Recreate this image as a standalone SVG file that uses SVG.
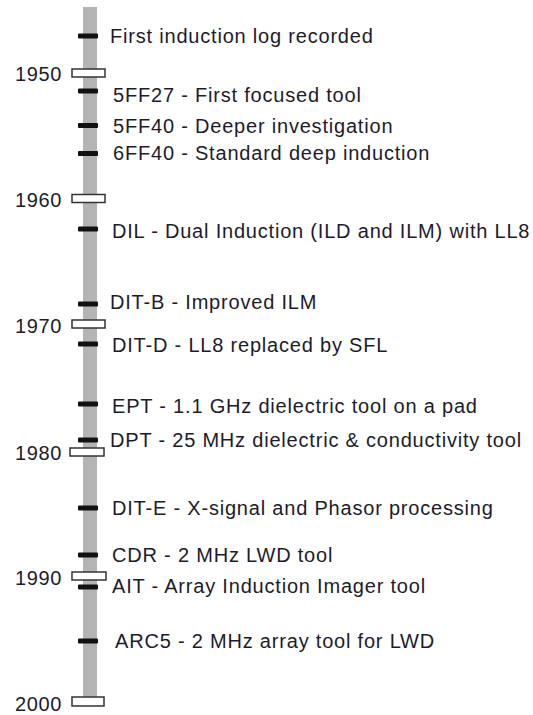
<svg xmlns="http://www.w3.org/2000/svg" width="533" height="715" viewBox="0 0 533 715">
<style>
.bg{fill:#ffffff}
.bar{fill:#b4b4b4}
.tick{fill:#111111}
.dec{fill:#ffffff;stroke:#333333;stroke-width:1.5}
.lbl{font-family:"Liberation Sans",Arial,sans-serif;font-size:20px;letter-spacing:0.8px;fill:#1c1c2c}
.yr{font-family:"Liberation Sans",Arial,sans-serif;font-size:20px;letter-spacing:0.6px;fill:#1c1c2c;text-anchor:end}
</style>
<rect class="bg" x="0" y="0" width="533" height="715"/>
<g id="connectors">
<rect id="timeline" class="bar" x="83" y="7" width="14" height="690"/>
</g>
<g id="years">
<g id="y1950"><rect class="dec" x="72" y="69" width="33" height="8"/><text class="yr" x="62" y="81">1950</text></g>
<g id="y1960"><rect class="dec" x="72" y="194.5" width="33" height="8"/><text class="yr" x="62" y="207">1960</text></g>
<g id="y1970"><rect class="dec" x="72" y="320" width="33" height="8"/><text class="yr" x="62" y="333">1970</text></g>
<g id="y1980"><rect class="dec" x="70" y="448" width="34" height="8"/><text class="yr" x="62" y="460">1980</text></g>
<g id="y1990"><rect class="dec" x="72" y="572" width="34" height="8"/><text class="yr" x="62" y="585">1990</text></g>
<g id="y2000"><rect class="dec" x="72" y="697" width="32" height="9"/><text class="yr" x="62" y="711">2000</text></g>
</g>
<g id="e1"><rect class="tick" x="78" y="33.5" width="20" height="5" rx="1"/><text class="lbl" x="110" y="43">First induction log recorded</text></g>
<g id="e2"><rect class="tick" x="78" y="88.5" width="20" height="5" rx="1"/><text class="lbl" x="113" y="102">5FF27 - First focused tool</text></g>
<g id="e3"><rect class="tick" x="78" y="123" width="20" height="5" rx="1"/><text class="lbl" x="113" y="133">5FF40 - Deeper investigation</text></g>
<g id="e4"><rect class="tick" x="78" y="151" width="20" height="5" rx="1"/><text class="lbl" x="113" y="160">6FF40 - Standard deep induction</text></g>
<g id="e5"><rect class="tick" x="78" y="226.5" width="20" height="5" rx="1"/><text class="lbl" x="112" y="238">DIL - Dual Induction (ILD and ILM) with LL8</text></g>
<g id="e6"><rect class="tick" x="78" y="301.5" width="20" height="5" rx="1"/><text class="lbl" x="110" y="309">DIT-B - Improved ILM</text></g>
<g id="e7"><rect class="tick" x="78" y="341.5" width="20" height="5" rx="1"/><text class="lbl" x="112" y="352">DIT-D - LL8 replaced by SFL</text></g>
<g id="e8"><rect class="tick" x="78" y="401.5" width="20" height="5" rx="1"/><text class="lbl" x="112" y="413">EPT - 1.1 GHz dielectric tool on a pad</text></g>
<g id="e9"><rect class="tick" x="78" y="437.5" width="20" height="5" rx="1"/><text class="lbl" x="110" y="447">DPT - 25 MHz dielectric &amp; conductivity tool</text></g>
<g id="e10"><rect class="tick" x="78" y="505.5" width="20" height="5" rx="1"/><text class="lbl" x="112" y="515">DIT-E - X-signal and Phasor processing</text></g>
<g id="e11"><rect class="tick" x="78" y="552.5" width="20" height="5" rx="1"/><text class="lbl" x="112" y="562">CDR - 2 MHz LWD tool</text></g>
<g id="e12"><rect class="tick" x="78" y="584.5" width="20" height="5" rx="1"/><text class="lbl" x="112" y="593">AIT - Array Induction Imager tool</text></g>
<g id="e13"><rect class="tick" x="78" y="638.5" width="20" height="5" rx="1"/><text class="lbl" x="115" y="648">ARC5 - 2 MHz array tool for LWD</text></g>
</svg>
